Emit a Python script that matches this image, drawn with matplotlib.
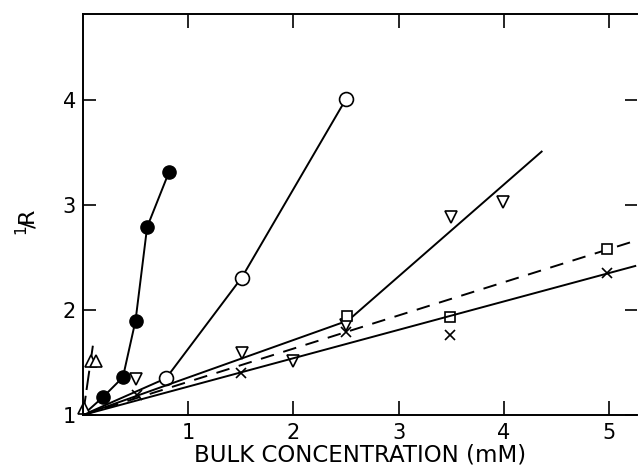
import matplotlib
matplotlib.use("Agg")
import matplotlib.pyplot as plt

# Filled circles
fc_x = [0.0, 0.19, 0.38, 0.50, 0.61, 0.82]
fc_y = [1.0, 1.17, 1.36, 1.90, 2.79, 3.32]
# Open circles
oc_x = [0.0, 0.79, 1.51, 2.50]
oc_y = [1.0, 1.35, 2.31, 4.01]
# Up triangles (near origin)
ut_x = [0.01, 0.08, 0.12]
ut_y = [1.07, 1.51, 1.51]
ut_line_x = [0.0, 0.10]
ut_line_y = [1.0, 1.70]
# Down triangles
dt_x = [0.50, 1.51, 2.00, 2.50, 3.50, 3.99]
dt_y = [1.34, 1.59, 1.51, 1.86, 2.89, 3.03]
dt_line_x = [0.0, 2.52, 4.36]
dt_line_y = [1.0, 1.90, 3.51]
# Squares (dashed line)
sq_x = [2.51, 3.49, 4.98]
sq_y = [1.94, 1.93, 2.58]
sq_line_x = [0.0, 5.25]
sq_line_y = [1.0, 2.66]
# Crosses
cr_x = [0.51, 1.50, 2.50, 3.49, 4.98]
cr_y = [1.19, 1.40, 1.79, 1.76, 2.35]
cr_line_x = [0.0, 5.25]
cr_line_y = [1.0, 2.42]

xticks = [1, 2, 3, 4, 5]
yticks = [1, 2, 3, 4]

plt.rcParams['font.family'] = ['DejaVu Sans']
fig = plt.figure(figsize=(6.38, 4.70), dpi=100)
ax = fig.add_axes([0.130, 0.117, 0.869, 0.853])
lw = 1.4
k = 'black'

ax.plot(fc_x, fc_y, '-', color=k, lw=lw)
ax.plot(fc_x[1:], fc_y[1:], 'o', color=k, ms=9.5, mfc=k)

ax.plot(oc_x, oc_y, '-', color=k, lw=lw)
ax.plot(oc_x[1:], oc_y[1:], 'o', color=k, ms=10, mfc='white', mew=1.2)

ax.plot(ut_line_x, ut_line_y, '-', color=k, lw=lw, dashes=(10, 3))
ax.plot(ut_x, ut_y, '^', color=k, ms=8, mfc='white', mew=1.2, ls='none',
        clip_on=False)

ax.plot(dt_line_x, dt_line_y, '-', color=k, lw=lw)
ax.plot(dt_x, dt_y, 'v', color=k, ms=8, mfc='white', mew=1.2, ls='none')

ax.plot(sq_line_x, sq_line_y, '--', color=k, lw=lw, dashes=(7, 5))
ax.plot(sq_x, sq_y, 's', color=k, ms=7, mfc='white', mew=1.2, ls='none')

ax.plot(cr_line_x, cr_line_y, '-', color=k, lw=lw)
ax.plot(cr_x, cr_y, 'x', color=k, ms=7, mew=1.2, ls='none')

ax.set_xlim(0, 5.27)
ax.set_ylim(1, 4.82)
ax.set_xticks(xticks)
ax.set_yticks(yticks)
ax.set_xticklabels([str(v) for v in xticks])
ax.set_yticklabels([str(v) for v in yticks])
ax.tick_params(direction='in', length=10, width=1.2, labelsize=15,
               top=True, right=True, pad=5)
ax.tick_params(axis='x', pad=6)
ax.tick_params(axis='y', length=9)
ax.spines['right'].set_visible(False)
for s in ['left', 'bottom', 'top']:
    ax.spines[s].set_linewidth(1.4)

ax.set_xlabel('BULK CONCENTRATION (mM)', fontsize=16.5, labelpad=0)
ax.set_ylabel(r'$^{1}\!/\!\mathrm{R}$', fontsize=16)
ax.yaxis.label.set_va('center')
ax.yaxis.set_label_coords(-0.101, 0.481)

fig.savefig('out.png', dpi=100)
